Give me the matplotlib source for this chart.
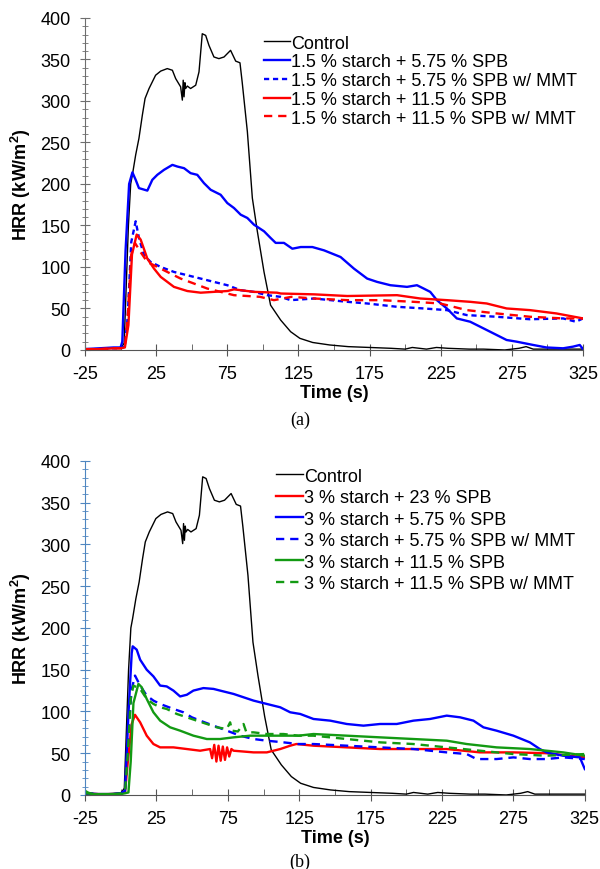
import numpy as np
import matplotlib.pyplot as plt
from matplotlib.ticker import MultipleLocator

plt.rcParams['font.family'] = ['Liberation Sans', 'DejaVu Sans']
plt.rcParams['axes.unicode_minus'] = False

# ---- control (same run in both panels) ----
t_ctrl = [-25, -15, -5, 0, 2.5, 3.6, 5.5, 7.1, 8.3, 10.6, 12.9, 15.3, 17.2, 20.0, 24.6, 28.2,
          32.8, 36.4, 38.7, 42.2, 43.4, 44.0, 44.6, 45.2, 45.7, 46.9, 49.2, 52.8, 55.1, 57.4,
          59.8, 62.1, 65.6, 69.1, 72.7, 77.3, 80.9, 83.9, 85.5, 89.1, 92.6, 96.1, 100.8,
          105.4, 112.5, 119.5, 126, 135, 147, 160, 175, 190, 200, 205, 215, 222, 230, 245,
          255, 270, 280, 285, 290, 300, 315, 325]
v_ctrl = [1, 1, 2, 2, 8, 60, 150, 200, 211, 235, 255, 283, 303, 315, 331, 336,
          339, 337, 327, 317, 301, 325, 305, 322, 315, 318, 315, 319, 335, 381,
          379, 367, 353, 351, 353, 361, 348, 346, 322, 263, 183, 143, 94,
          54, 36, 22, 14, 9, 6, 4, 3, 2, 1, 3, 1, 3, 2, 1,
          1, 0, 2, 4, 1, 1, 1, 1]

# ---- panel (a) ----
t_a1 = [-25, -15, -5, 0, 1.2, 3.5, 6.0, 8.3, 10.6, 12.9, 18.8, 22.3, 25.8, 30.5, 36.4, 39.9,
        44.6, 49.2, 53.9, 58.6, 63.3, 70.3, 75, 79.7, 84.4, 89.1, 93.7, 100.8, 105.4, 109,
        114.8, 120.7, 126.6, 134.8, 143, 154.6, 164, 173.3, 180.3, 189.6, 201.3, 208.3,
        213, 217.6, 222.3, 229.3, 236.3, 245.7, 252.7, 262, 271.3, 278.3, 290, 299.3, 311,
        318, 322.7, 325]
v_a1 = [1, 2, 3, 3, 10, 120, 200, 214, 205, 195, 192, 205, 211, 217, 223, 221,
        219, 213, 211, 201, 193, 187, 177, 171, 163, 159, 151, 143, 135, 129,
        129, 122, 124, 124, 120, 112, 98, 86, 82, 78, 76, 78,
        74, 70, 60, 50, 38, 34, 28, 20, 12, 10, 6, 3, 2,
        4, 6, 1]

t_a2 = [-25, -15, -5, 0, 3, 5, 7.5, 10.6, 12.9, 16.5, 21.1, 28.2, 37.5, 46.9, 56.3, 65.6,
        75, 84.4, 93.7, 103, 112.5, 119.5, 136, 159.3, 173.3, 194.3, 213, 229.3, 243.3,
        264.3, 287.7, 311, 320, 325]
v_a2 = [1, 1, 2, 2, 4, 40, 130, 155, 135, 114, 106, 100, 94, 90, 86, 82,
        78, 72, 70, 66, 64, 60, 62, 58, 56, 52, 50, 48, 42,
        40, 37, 38, 34, 38]

t_a3 = [-25, -15, -5, 0, 3, 5.5, 8, 11.3, 14.1, 18.8, 23.5, 28.2, 37.5, 46.9, 56.3, 75,
        79.7, 93.7, 110, 112.6, 136, 159.3, 194.3, 210.6, 229.3, 245.7, 257.3, 271.3,
        287.7, 306.3, 325]
v_a3 = [1, 1, 2, 2, 3, 30, 115, 139, 133, 110, 98, 88, 76, 71, 69, 71,
        73, 70, 69, 68, 67, 65, 66, 62, 60, 58, 56, 50,
        48, 44, 38]

t_a4 = [-25, -15, -5, 0, 3, 5, 7.5, 10.1, 14, 18.8, 23.5, 32.8, 42.2, 51.6, 60.9, 70.3,
        79.7, 89.1, 98, 107.8, 120, 136, 159.3, 182.6, 206, 224.6, 243.3, 264.3, 287.7,
        311, 325]
v_a4 = [1, 1, 2, 2, 4, 40, 115, 129, 118, 106, 102, 94, 86, 80, 74, 70,
        66, 65, 64, 60, 64, 62, 60, 60, 58, 56, 48, 44, 40,
        38, 38]

# ---- panel (b) ----
t_b1 = [-25, -15, -5, 0, 3, 5, 7.7, 10, 13.6, 18.2, 22.9, 27.6, 36.9, 46.3, 55.6, 62.6,
        64, 65.5, 67, 68.5, 70, 71.5, 73, 74.5, 76, 77.5, 79, 93, 102.3, 111.7, 118.7,
        123, 135, 158.3, 181.6, 205, 228.3, 251.6, 275, 298.2, 325]
v_b1 = [2, 1, 1, 2, 3, 40, 85, 96, 87, 71, 61, 57, 57, 55, 53, 55,
        44, 60, 40, 59, 41, 58, 42, 57, 46, 55, 53, 51, 51, 55, 59,
        61, 59, 57, 55, 55, 55, 51, 51, 50, 45]

t_b2 = [-25, -15, -5, 0, 3, 5.5, 7.7, 8.4, 11.2, 13.6, 18.2, 22.9, 27.6, 32.2, 36.9, 41.6,
        46.3, 50.9, 57.9, 65, 69.6, 79, 86, 93, 102.3, 111.7, 118.7, 125.7, 135, 146.7,
        158.3, 170, 181.6, 193.3, 205, 216.6, 228.3, 237.6, 247, 254, 263.2, 275, 286.5,
        293.5, 298.2, 309.8, 321.5, 325]
v_b2 = [2, 1, 1, 2, 5, 100, 170, 178, 174, 162, 150, 142, 131, 130, 125, 118,
        120, 125, 128, 127, 125, 121, 117, 113, 109, 105, 99, 97, 91, 89,
        85, 83, 85, 85, 89, 91, 95, 93, 89, 81, 77, 71, 63,
        55, 51, 47, 45, 31]

t_b3 = [-25, -15, -5, 0, 3, 5, 7.5, 10, 13.6, 18.2, 22.9, 27.6, 36.9, 43.9, 49.8, 55.6,
        65, 74.3, 83.6, 93, 102.3, 114, 124.5, 135, 158.3, 181.6, 205, 216.6, 228.3,
        242.3, 249.2, 263.2, 275, 286.5, 298, 310, 325]
v_b3 = [2, 1, 1, 2, 5, 60, 125, 143, 131, 119, 113, 109, 103, 99, 93, 89,
        83, 77, 71, 67, 65, 63, 61, 61, 59, 57, 55, 53, 51,
        49, 43, 43, 45, 43, 43, 45, 43]

t_b4 = [-25, -23, -20, -15, -5, 0, 3, 5.4, 7, 8.9, 12.4, 14.7, 18.2, 22.9, 27.6, 34.6,
        41.6, 50.9, 60.3, 69.6, 79, 90.7, 102.3, 114, 124.5, 135, 158.3, 181.6, 205,
        228.3, 242.3, 263.2, 286.5, 309.8, 325]
v_b4 = [5, 3, 1, 1, 1, 1, 2, 3, 40, 110, 133, 129, 115, 99, 89, 81,
        77, 71, 67, 67, 69, 71, 71, 71, 71, 73, 71, 69, 67,
        65, 61, 57, 55, 51, 47]

t_b5 = [-25, -15, -5, 0, 3, 5, 7, 8.9, 13.6, 18.2, 22.9, 27.6, 32.2, 39.3, 46.3, 53.2,
        60.3, 67.3, 74.3, 76.6, 78, 82, 86, 88, 93, 102.3, 114, 124.5, 135, 158.3,
        181.6, 205, 228.3, 251.6, 275, 298, 325]
v_b5 = [2, 1, 1, 2, 4, 50, 115, 131, 127, 115, 109, 105, 103, 97, 93, 89,
        85, 81, 79, 87, 77, 76, 85, 75, 75, 73, 73, 71, 71, 67,
        63, 61, 57, 53, 49, 47, 49]

labels_a = ['Control', '1.5 % starch + 5.75 % SPB', '1.5 % starch + 5.75 % SPB w/ MMT',
            '1.5 % starch + 11.5 % SPB', '1.5 % starch + 11.5 % SPB w/ MMT']
labels_b = ['Control', '3 % starch + 23 % SPB', '3 % starch + 5.75 % SPB',
            '3 % starch + 5.75 % SPB w/ MMT', '3 % starch + 11.5 % SPB',
            '3 % starch + 11.5 % SPB w/ MMT']

BLUE = '#0000ff'
RED = '#ff0000'
GREEN = '#139a13'
SHORT_DASH = (0, (2.2, 1.6))
LONG_DASH = (0, (3.5, 2.5))

fig = plt.figure(figsize=(6, 8.7), dpi=100)
ax1 = fig.add_axes([0.1417, 0.5966, 0.83, 0.3816])
ax2 = fig.add_axes([0.1417, 0.0851, 0.833, 0.3839])


def style(ax, spine_col):
    ax.set_xlim(-25, 325)
    ax.set_ylim(0, 400)
    ax.xaxis.set_minor_locator(MultipleLocator(25))
    ax.set_xticks(np.arange(-25, 326, 50))
    ax.yaxis.set_major_locator(MultipleLocator(50))
    ax.yaxis.set_minor_locator(MultipleLocator(10))
    for s in ['top', 'right']:
        ax.spines[s].set_visible(False)
    ax.spines['bottom'].set_color('#555555')
    ax.spines['left'].set_color(spine_col)
    ax.tick_params(axis='x', which='major', direction='inout', length=8, color='#555555',
                   labelsize=13, pad=7)
    ax.tick_params(axis='x', which='minor', direction='in', length=4, color='#555555')
    ax.tick_params(axis='y', which='major', direction='inout', length=7, color=spine_col,
                   labelsize=13, pad=7)
    ax.tick_params(axis='y', which='minor', direction='inout', length=4, color=spine_col)
    ax.set_xlabel('Time (s)', fontsize=13, fontweight='bold', labelpad=1)
    ax.set_ylabel('HRR (kW/m$^\\mathregular{2}$)', fontsize=13, fontweight='bold', labelpad=5)


style(ax1, '#6e6e6e')
ax1.plot(t_ctrl, v_ctrl, color='black', lw=1.0, label=labels_a[0])
ax1.plot(t_a1, v_a1, color=BLUE, lw=1.7, label=labels_a[1])
ax1.plot(t_a2, v_a2, color=BLUE, lw=1.7, ls=SHORT_DASH, label=labels_a[2])
ax1.plot(t_a3, v_a3, color=RED, lw=1.7, label=labels_a[3])
ax1.plot(t_a4, v_a4, color=RED, lw=1.7, ls=LONG_DASH, label=labels_a[4])
ax1.legend(loc='upper left', bbox_to_anchor=(0.36, 0.95), frameon=False, fontsize=13,
           handlelength=1.4, handletextpad=0.1, labelspacing=0.1, borderpad=0,
           borderaxespad=0)

style(ax2, '#4f86c0')
ax2.plot(t_ctrl, v_ctrl, color='black', lw=1.0, label=labels_b[0])
ax2.plot(t_b1, v_b1, color=RED, lw=1.7, label=labels_b[1])
ax2.plot(t_b2, v_b2, color=BLUE, lw=1.7, label=labels_b[2])
ax2.plot(t_b3, v_b3, color=BLUE, lw=1.7, ls=LONG_DASH, label=labels_b[3])
ax2.plot(t_b4, v_b4, color=GREEN, lw=1.7, label=labels_b[4])
ax2.plot(t_b5, v_b5, color=GREEN, lw=1.7, ls=LONG_DASH, label=labels_b[5])
ax2.legend(loc='upper left', bbox_to_anchor=(0.383, 0.98), frameon=False, fontsize=13,
           handlelength=1.45, handletextpad=0.1, labelspacing=0.25, borderpad=0,
           borderaxespad=0)

fig.text(0.5, 1 - 420 / 870, '(a)', ha='center', va='center', fontsize=13,
         family=['Liberation Serif', 'DejaVu Serif'])
fig.text(0.5, 1 - 862 / 870, '(b)', ha='center', va='center', fontsize=13,
         family=['Liberation Serif', 'DejaVu Serif'])

fig.savefig('out.png', dpi=100)
